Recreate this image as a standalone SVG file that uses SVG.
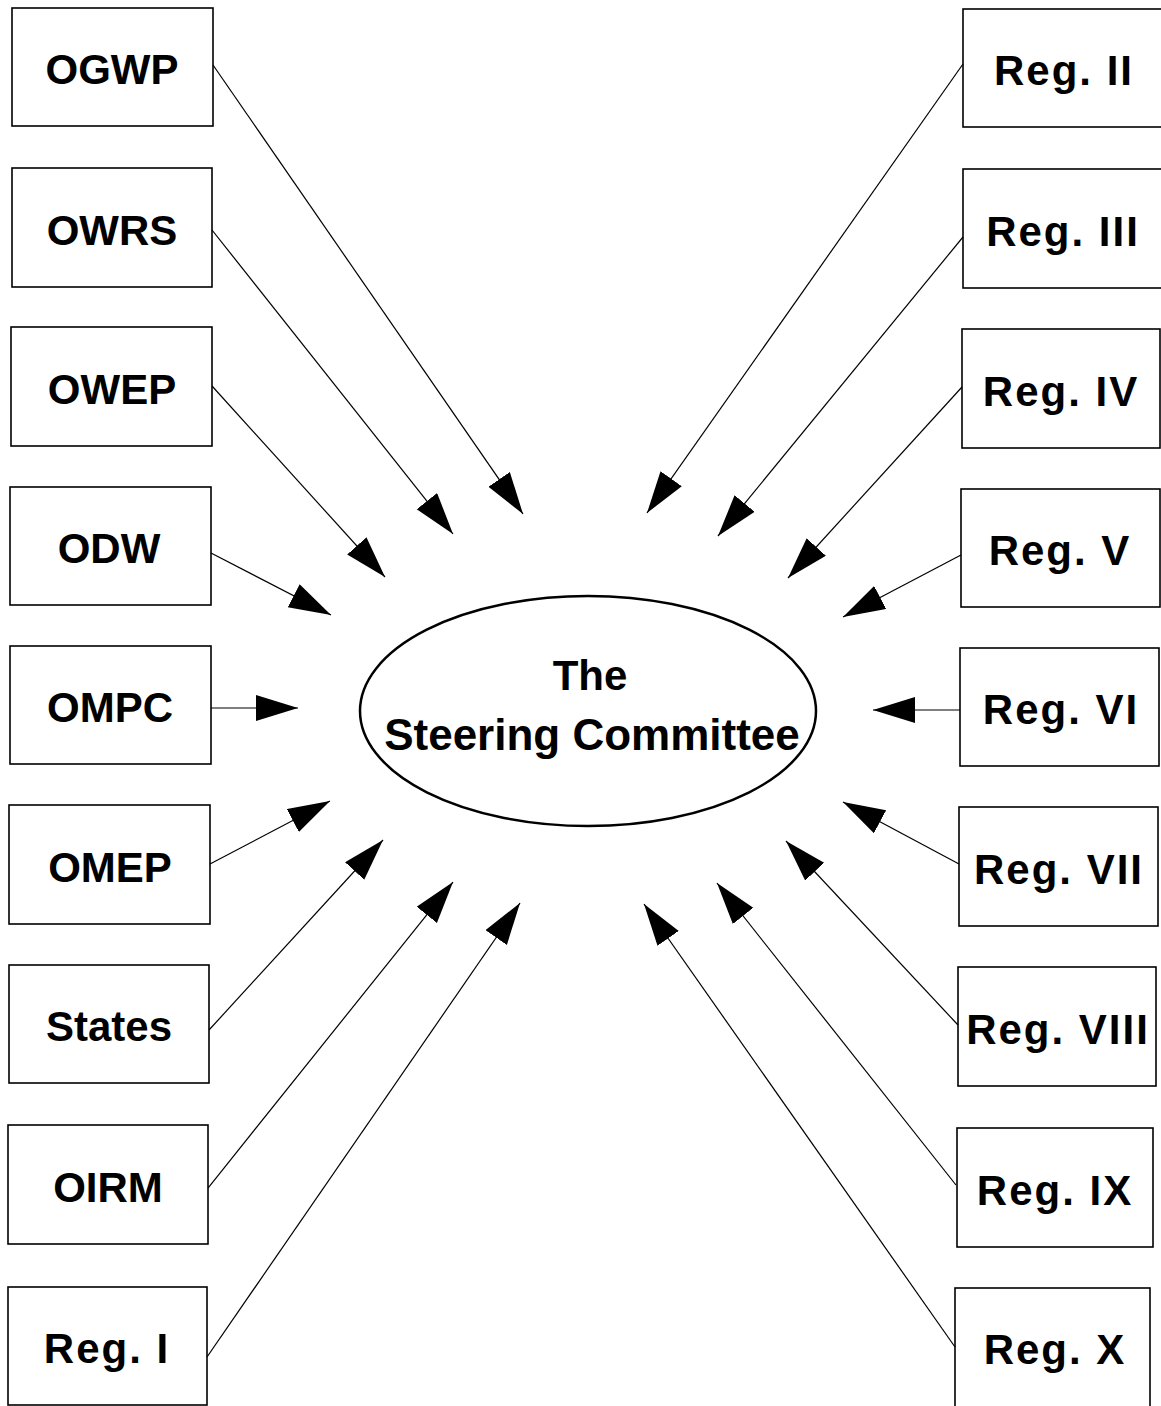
<svg xmlns="http://www.w3.org/2000/svg" width="1161" height="1406" viewBox="0 0 1161 1406">
<defs>
<marker id="ah" markerUnits="userSpaceOnUse" markerWidth="44" markerHeight="28" refX="42" refY="13" orient="auto">
<path d="M0,0 L42,13 L0,26 z" fill="#000"/>
</marker>
<style>
.box{fill:#fff;stroke:#000;stroke-width:1.6}
.lbl{font-family:"Liberation Sans",Arial,sans-serif;font-weight:bold;font-size:42px;text-anchor:middle;fill:#000}
.reg{letter-spacing:2px}
.conn line{stroke:#000;stroke-width:1.2;marker-end:url(#ah)}
</style>
</defs>
<rect width="1161" height="1406" fill="#fff"/>

<g id="center">
<ellipse cx="588" cy="711" rx="228" ry="115" fill="#fff" stroke="#000" stroke-width="2.5"/>
<text class="lbl" x="590" y="690" font-size="42">The</text>
<text class="lbl" x="592" y="750" style="font-size:44px">Steering Committee</text>
</g>

<g id="n-ogwp"><rect class="box" x="12" y="8" width="201" height="118"/><text class="lbl" x="112" y="84">OGWP</text></g>
<g id="n-owrs"><rect class="box" x="12" y="168" width="200" height="119"/><text class="lbl" x="112" y="245">OWRS</text></g>
<g id="n-owep"><rect class="box" x="11" y="327" width="201" height="119"/><text class="lbl" x="112" y="404">OWEP</text></g>
<g id="n-odw"><rect class="box" x="10" y="487" width="201" height="118"/><text class="lbl" x="109" y="563">ODW</text></g>
<g id="n-ompc"><rect class="box" x="10" y="646" width="201" height="118"/><text class="lbl" x="110" y="722">OMPC</text></g>
<g id="n-omep"><rect class="box" x="9" y="805" width="201" height="119"/><text class="lbl" x="110" y="882">OMEP</text></g>
<g id="n-states"><rect class="box" x="9" y="965" width="200" height="118"/><text class="lbl" x="109" y="1041">States</text></g>
<g id="n-oirm"><rect class="box" x="8" y="1125" width="200" height="119"/><text class="lbl" x="108" y="1202">OIRM</text></g>
<g id="n-reg1"><rect class="box" x="8" y="1287" width="199" height="118"/><text class="lbl reg" x="107" y="1363">Reg. I</text></g>

<g id="n-reg2"><rect class="box" x="963" y="9" width="200" height="118"/><text class="lbl reg" x="1064" y="85">Reg. II</text></g>
<g id="n-reg3"><rect class="box" x="963" y="169" width="200" height="119"/><text class="lbl reg" x="1063" y="246">Reg. III</text></g>
<g id="n-reg4"><rect class="box" x="962" y="329" width="198" height="119"/><text class="lbl reg" x="1061" y="406">Reg. IV</text></g>
<g id="n-reg5"><rect class="box" x="961" y="489" width="199" height="118"/><text class="lbl reg" x="1060" y="565">Reg. V</text></g>
<g id="n-reg6"><rect class="box" x="960" y="648" width="199" height="118"/><text class="lbl reg" x="1061" y="724">Reg. VI</text></g>
<g id="n-reg7"><rect class="box" x="959" y="807" width="199" height="119"/><text class="lbl reg" x="1059" y="884">Reg. VII</text></g>
<g id="n-reg8"><rect class="box" x="958" y="967" width="198" height="119"/><text class="lbl reg" x="1058" y="1044">Reg. VIII</text></g>
<g id="n-reg9"><rect class="box" x="957" y="1128" width="196" height="119"/><text class="lbl reg" x="1055" y="1205">Reg. IX</text></g>
<g id="n-reg10"><rect class="box" x="955" y="1288" width="195" height="120"/><text class="lbl reg" x="1055" y="1364">Reg. X</text></g>

<g id="connectors" class="conn">
<line x1="213" y1="65" x2="523" y2="514"/>
<line x1="212" y1="230" x2="453" y2="534"/>
<line x1="212" y1="386" x2="385" y2="577"/>
<line x1="211" y1="553" x2="331" y2="615"/>
<line x1="211" y1="708" x2="298" y2="708"/>
<line x1="210" y1="864" x2="330" y2="801"/>
<line x1="209" y1="1030" x2="383" y2="840"/>
<line x1="208" y1="1188" x2="453" y2="882"/>
<line x1="207" y1="1357" x2="520" y2="903"/>
<line x1="963" y1="64" x2="647" y2="513"/>
<line x1="963" y1="237" x2="718" y2="536"/>
<line x1="962" y1="387" x2="788" y2="578"/>
<line x1="961" y1="555" x2="843" y2="617"/>
<line x1="960" y1="710" x2="873" y2="710"/>
<line x1="959" y1="864" x2="843" y2="802"/>
<line x1="958" y1="1025" x2="786" y2="841"/>
<line x1="956" y1="1185" x2="717" y2="883"/>
<line x1="955" y1="1347" x2="644" y2="904"/>
</g>
</svg>
